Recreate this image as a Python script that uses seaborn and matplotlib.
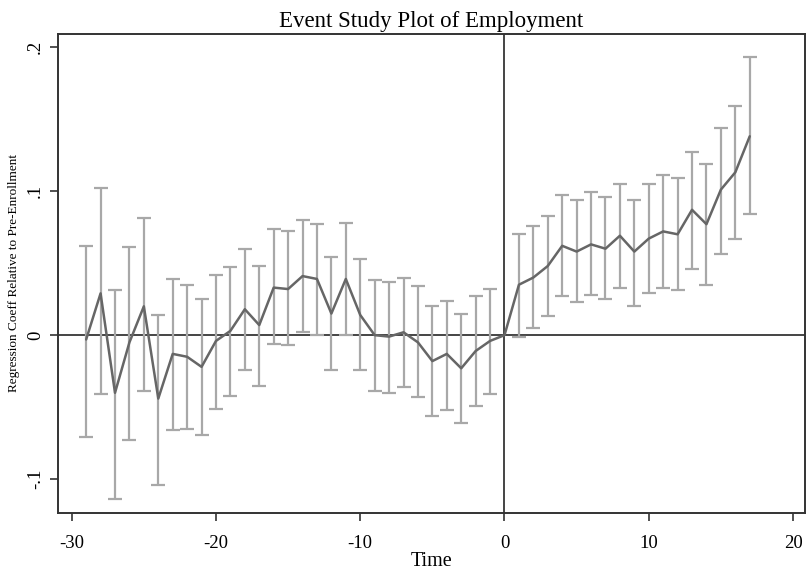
import numpy as np
import pandas as pd
import matplotlib
matplotlib.use("Agg")
import matplotlib.pyplot as plt
import seaborn as sns

# event time
time = list(range(-29, 18))

coef = [-0.003, 0.029, -0.040, -0.005, 0.020, -0.044, -0.013, -0.015, -0.022, -0.004,
        0.003, 0.018, 0.007, 0.033, 0.032, 0.041, 0.039, 0.015, 0.039, 0.014,
        0.000, -0.001, 0.002, -0.005, -0.018, -0.013, -0.023, -0.011, -0.004, 0.000,
        0.035, 0.040, 0.048, 0.062, 0.058, 0.063, 0.060, 0.069, 0.058, 0.067,
        0.072, 0.070, 0.087, 0.077, 0.101, 0.113, 0.138]

ci_hi = [0.062, 0.102, 0.031, 0.061, 0.081, 0.014, 0.039, 0.035, 0.025, 0.042,
         0.047, 0.060, 0.048, 0.074, 0.072, 0.080, 0.077, 0.054, 0.078, 0.053,
         0.038, 0.037, 0.040, 0.034, 0.020, 0.024, 0.015, 0.027, 0.032, None,
         0.070, 0.076, 0.083, 0.097, 0.094, 0.099, 0.096, 0.105, 0.094, 0.105,
         0.111, 0.109, 0.127, 0.119, 0.144, 0.159, 0.193]

ci_lo = [-0.071, -0.041, -0.114, -0.073, -0.039, -0.104, -0.066, -0.065, -0.069, -0.051,
         -0.042, -0.024, -0.035, -0.006, -0.007, 0.002, 0.000, -0.024, 0.000, -0.024,
         -0.039, -0.040, -0.036, -0.043, -0.056, -0.052, -0.061, -0.049, -0.041, None,
         -0.001, 0.005, 0.013, 0.027, 0.023, 0.028, 0.025, 0.033, 0.020, 0.029,
         0.033, 0.031, 0.046, 0.035, 0.056, 0.067, 0.084]

df = pd.DataFrame({"time": time, "coef": coef, "hi": ci_hi, "lo": ci_lo})

sns.set_theme(style="white")
plt.rcParams["font.family"] = ["Liberation Serif", "DejaVu Serif"]
plt.rcParams["axes.unicode_minus"] = False
plt.rcParams["text.color"] = "black"
plt.rcParams["axes.labelcolor"] = "black"

fig = plt.figure(figsize=(8.07, 5.76), dpi=100)
ax = fig.add_axes([0.0719, 0.1094, 0.9256, 0.8316])

ci = df.dropna()
ax.errorbar(ci["time"], ci["coef"],
            yerr=[ci["coef"] - ci["lo"], ci["hi"] - ci["coef"]],
            fmt="none", ecolor="#a8a8a8", elinewidth=1.6, capsize=5, capthick=1.6, zorder=2)

ax.axhline(0, color="#444444", lw=1.4, zorder=1)
ax.axvline(0, color="#444444", lw=1.4, zorder=1)

sns.lineplot(data=df, x="time", y="coef", color="#666666", lw=1.8, ax=ax, zorder=3)

ax.set_xlim(-30.95, 20.83)
ax.set_ylim(-0.1234, 0.209)
ax.set_xticks([-30, -20, -10, 0, 10, 20])
ax.set_yticks([-0.1, 0, 0.1, 0.2])
ax.set_yticklabels(["-.1", "0", ".1", ".2"], rotation=90, va="center")

for s in ax.spines.values():
    s.set_color("#333333")
    s.set_linewidth(1.4)

ax.tick_params(axis="both", which="major", direction="out", length=6, width=1.2,
               color="#333333", labelsize=13.5, labelcolor="black", bottom=True, left=True)
ax.tick_params(axis="x", pad=10)
ax.tick_params(axis="y", pad=4)

ax.set_title("Event Study Plot of Employment", fontsize=16.5, pad=5, color="black")
ax.set_xlabel("Time", fontsize=14.5, labelpad=0)
ax.set_ylabel("Regression Coeff Relative to Pre-Enrollment", fontsize=9.5, labelpad=5)

fig.savefig("out.png", dpi=100)
